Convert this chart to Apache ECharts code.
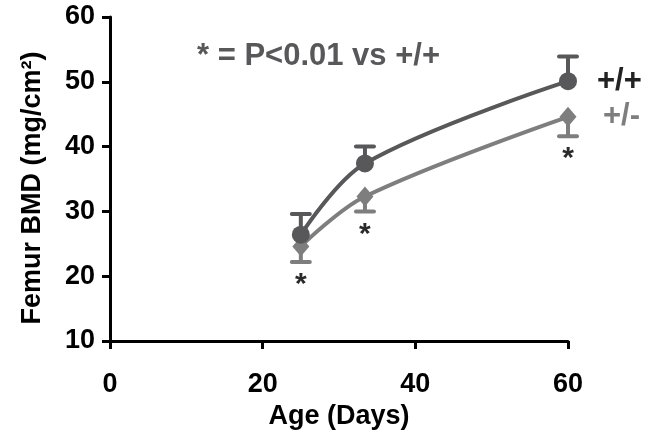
<!DOCTYPE html>
<html>
<head>
<meta charset="utf-8">
<script src="https://cdn.jsdelivr.net/npm/echarts@6/dist/echarts.min.js"></script>
<style>
html,body{margin:0;padding:0;background:#fff;}
#chart{width:652px;height:443px;}
</style>
</head>
<body>
<div id="chart"></div>
<script>
// ---- data ----
const ages = [25, 33.4, 60];
const wtMean = [26.4, 37.4, 50.1];
const wtErr = [3.2, 2.6, 3.8];
const hetMean = [24.6, 32.3, 44.6];
const hetErr = [2.4, 2.3, 3.0];
const hetSignificant = [true, true, true];
const yTicks = [10, 20, 30, 40, 50, 60];
const xTicks = [0, 20, 40, 60];
const wtName = '+/+';
const hetName = '+/-';
const noteText = '* = P<0.01 vs +/+';

const FONT = "'Liberation Sans', Arial, Helvetica, sans-serif";
const WT_COLOR = '#58585a';
const HET_COLOR = '#7e7e7e';

function errRender(color, withStar) {
  return function (params, api) {
    const x = api.value(0), y = api.value(1), e = api.value(2), dir = api.value(3), star = api.value(4);
    const p0 = api.coord([x, y]);
    const p1 = api.coord([x, y + dir * e]);
    const hw = 9;
    const children = [
      {type: 'line', shape: {x1: p0[0], y1: p0[1], x2: p1[0], y2: p1[1]}, style: {stroke: color, lineWidth: 4}},
      {type: 'line', shape: {x1: p1[0] - hw, y1: p1[1], x2: p1[0] + hw, y2: p1[1]}, style: {stroke: color, lineWidth: 4, lineCap: 'round'}}
    ];
    if (withStar && star) {
      children.push({type: 'text', x: p1[0], y: p1[1] + 8, style: {text: '*', fill: '#2a2a2a', font: 'bold 30px ' + FONT, align: 'center', verticalAlign: 'top'}});
    }
    return {type: 'group', children: children};
  };
}

const wtPts = ages.map((a, i) => [a, wtMean[i]]);
const hetPts = ages.map((a, i) => [a, hetMean[i]]);
const wtErrData = ages.map((a, i) => [a, wtMean[i], wtErr[i], 1, 0]);
const hetErrData = ages.map((a, i) => [a, hetMean[i], hetErr[i], -1, hetSignificant[i] ? 1 : 0]);

const chart = echarts.init(document.getElementById('chart'), null, {renderer: 'canvas'});
chart.setOption({
  animation: false,
  backgroundColor: '#fff',
  title: {
    text: noteText, left: 192, top: 36,
    textStyle: {fontFamily: FONT, fontWeight: 'bold', fontSize: 31, color: WT_COLOR}
  },
  grid: {left: 110, right: 84, top: 17, bottom: 102, containLabel: false},
  xAxis: {
    type: 'value', min: 0, max: 60, interval: 20,
    name: 'Age (Days)', nameLocation: 'middle', nameGap: 57,
    nameTextStyle: {fontFamily: FONT, fontWeight: 'bold', fontSize: 27, color: '#000'},
    axisLine: {show: true, onZero: false, lineStyle: {color: '#000', width: 3}},
    axisTick: {show: true, inside: false, length: 8, lineStyle: {color: '#000', width: 3}},
    axisLabel: {fontFamily: FONT, fontWeight: 'bold', fontSize: 27, color: '#000', margin: 30,
      formatter: v => xTicks.includes(v) ? String(v) : ''},
    splitLine: {show: false}
  },
  yAxis: {
    type: 'value', min: 10, max: 60, interval: 10,
    name: 'Femur BMD (mg/cm²)', nameLocation: 'middle', nameGap: 64, nameRotate: 90,
    nameTextStyle: {fontFamily: FONT, fontWeight: 'bold', fontSize: 27, color: '#000', padding: [0, 18, 0, 0]},
    axisLine: {show: true, onZero: false, lineStyle: {color: '#000', width: 3}},
    axisTick: {show: true, inside: false, length: 8, lineStyle: {color: '#000', width: 3}},
    axisLabel: {fontFamily: FONT, fontWeight: 'bold', fontSize: 27, color: '#000', margin: 15,
      formatter: v => yTicks.includes(v) ? String(v) : ''},
    splitLine: {show: false}
  },
  series: [
    {type: 'custom', renderItem: errRender(WT_COLOR, false), data: wtErrData, z: 1, silent: true},
    {type: 'custom', renderItem: errRender(HET_COLOR, true), data: hetErrData, z: 1, silent: true},
    {
      type: 'line', name: hetName, data: hetPts, smooth: 0.35, z: 3,
      symbol: 'diamond', symbolSize: [17, 20], showAllSymbol: true,
      lineStyle: {color: HET_COLOR, width: 4}, itemStyle: {color: HET_COLOR},
      endLabel: {show: true, formatter: hetName, distance: 35, color: HET_COLOR,
        fontFamily: FONT, fontWeight: 'bold', fontSize: 31}
    },
    {
      type: 'line', name: wtName, data: wtPts, smooth: 0.35, z: 4,
      symbol: 'circle', symbolSize: 18, showAllSymbol: true,
      lineStyle: {color: WT_COLOR, width: 4}, itemStyle: {color: WT_COLOR},
      endLabel: {show: true, formatter: wtName, distance: 29, color: '#222',
        fontFamily: FONT, fontWeight: 'bold', fontSize: 31}
    }
  ]
});
</script>
</body>
</html>
